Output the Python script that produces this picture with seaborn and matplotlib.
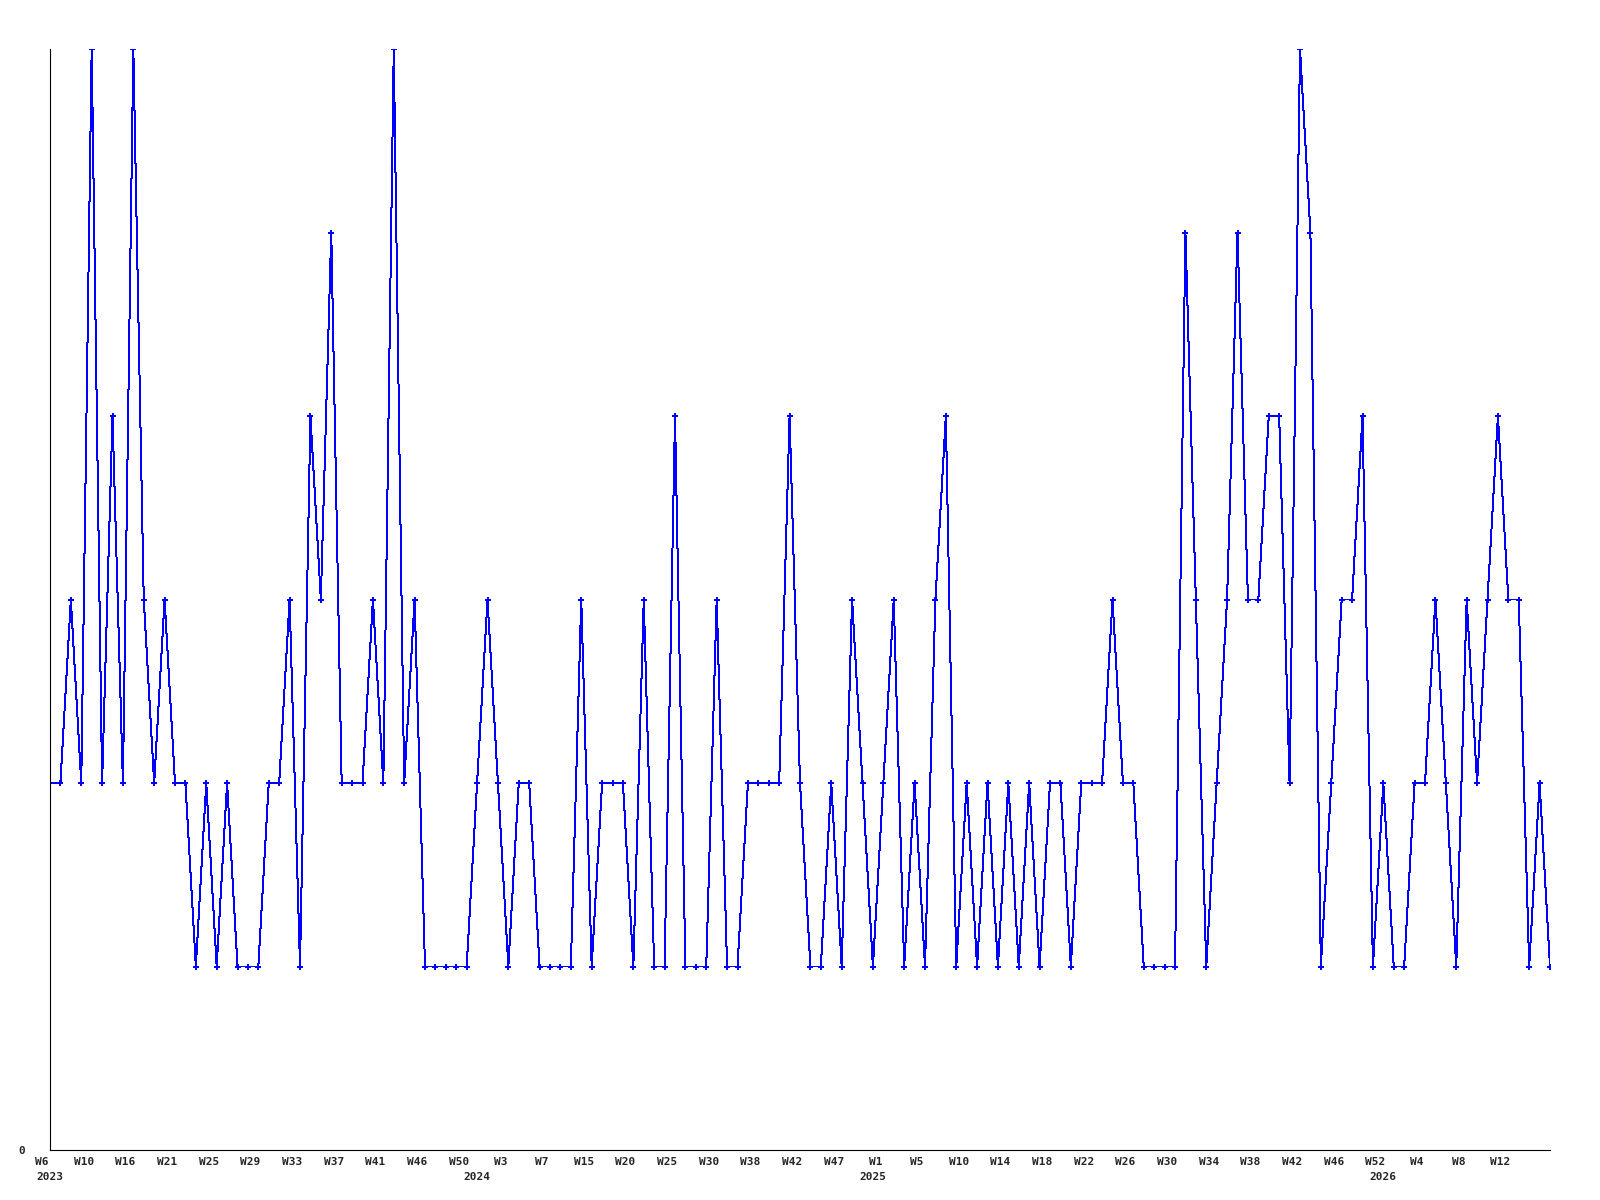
import matplotlib
matplotlib.use("Agg")
import matplotlib.pyplot as plt
import matplotlib.transforms as mtransforms
import numpy as np
import seaborn as sns

# weekly counts, one entry per plotted week (W6 2023 .. W14 2026)
values = [
    2, 2, 3, 2, 6, 2, 4, 2, 6, 3,
    2, 3, 2, 2, 1, 2, 1, 2, 1, 1,
    1, 2, 2, 3, 1, 4, 3, 5, 2, 2,
    2, 3, 2, 6, 2, 3, 1, 1, 1, 1,
    1, 2, 3, 2, 1, 2, 2, 1, 1, 1,
    1, 3, 1, 2, 2, 2, 1, 3, 1, 1,
    4, 1, 1, 1, 3, 1, 1, 2, 2, 2,
    2, 4, 2, 1, 1, 2, 1, 3, 2, 1,
    2, 3, 1, 2, 1, 3, 4, 1, 2, 1,
    2, 1, 2, 1, 2, 1, 2, 2, 1, 2,
    2, 2, 3, 2, 2, 1, 1, 1, 1, 5,
    3, 1, 2, 3, 5, 3, 3, 4, 4, 2,
    6, 5, 1, 2, 3, 3, 4, 1, 2, 1,
    1, 2, 2, 3, 2, 1, 3, 2, 3, 4,
    3, 3, 1, 2, 1,
]

# labels shown on every 4th week
week_labels = [
    "W6", "W10", "W16", "W21", "W25", "W29", "W33", "W37", "W41", "W46", "W50",
    "W3", "W7", "W15", "W20", "W25", "W30", "W38", "W42", "W47",
    "W1", "W5", "W10", "W14", "W18", "W22", "W26", "W30", "W34", "W38", "W42", "W46", "W52",
    "W4", "W8", "W12",
]
label_every = 4

# year markers and the week index where each year starts
year_labels = ["2023", "2024", "2025", "2026"]
year_start_idx = [0, 41, 79, 128]

sns.set_style("white")
plt.rcParams["font.family"] = ["DejaVu Sans Mono", "DejaVu Sans"]

fig = plt.figure(figsize=(16, 12), dpi=100)
ax = fig.add_axes([50 / 1600, 1 - 1150 / 1200, 1500 / 1600, 1101 / 1200])

x = np.arange(len(values))
sns.lineplot(x=x, y=values, ax=ax, color="#0000ff", linewidth=0.72,
             marker="P", markersize=4, markeredgewidth=0,
             markerfacecolor="#0000ff", antialiased=False)

ax.set_xlim(0, len(values) - 1)
ax.set_ylim(0, 6)

font = dict(fontsize=8, fontweight="bold")
ax.set_yticks([0])
ax.set_yticklabels(["0"], **font)
ax.tick_params(axis="y", length=0, pad=18)

ticks = np.arange(len(week_labels)) * label_every
ax.set_xticks(ticks)
ax.set_xticklabels(week_labels, **font)
ax.tick_params(axis="x", length=0, pad=5)
shift = mtransforms.ScaledTranslation(-8 / 100, 0, fig.dpi_scale_trans)
for lbl in ax.get_xticklabels():
    lbl.set_transform(lbl.get_transform() + shift)

for yr, idx in zip(year_labels, year_start_idx):
    ax.annotate(yr, xy=(idx, 0), xycoords=("data", "axes fraction"),
                xytext=(0, -16), textcoords="offset points",
                ha="center", va="top", annotation_clip=False, **font)

for side in ["top", "right"]:
    ax.spines[side].set_visible(False)
for side in ["left", "bottom"]:
    ax.spines[side].set_color("black")
    ax.spines[side].set_linewidth(0.8)
ax.grid(False)

fig.savefig("out.png", dpi=100)
plt.close(fig)
